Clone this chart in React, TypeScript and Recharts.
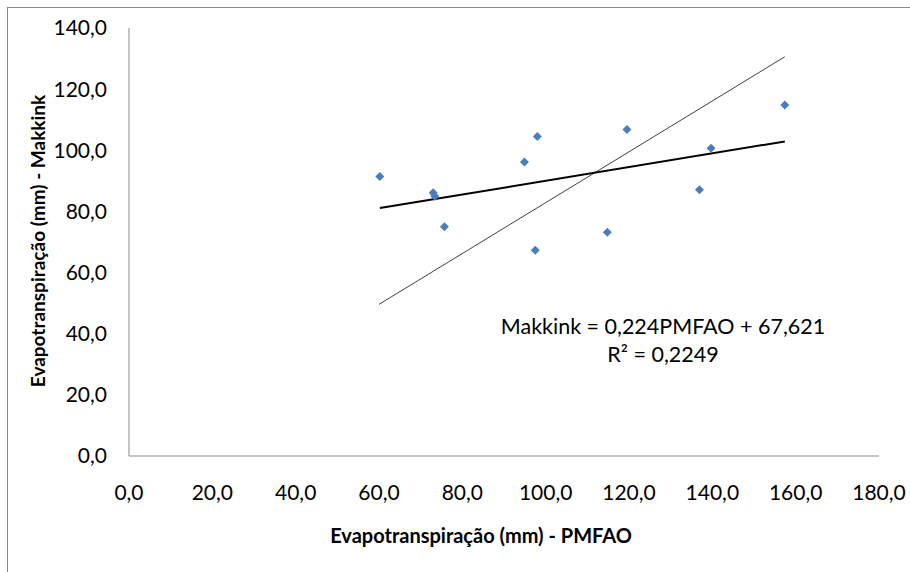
import { ScatterChart, Scatter, XAxis, YAxis, ReferenceLine } from 'recharts';

// PMFAO (x) vs Makkink (y), mm
const pmfao = [60.2, 73.0, 73.4, 75.7, 94.9, 98.0, 97.5, 114.8, 119.5, 136.9, 139.7, 157.4];
const makkink = [91.4, 86.1, 85.0, 75.0, 96.2, 104.5, 67.3, 73.2, 106.8, 87.1, 100.7, 114.8];

const xTicks = [0, 20, 40, 60, 80, 100, 120, 140, 160, 180];
const yTicks = [0, 20, 40, 60, 80, 100, 120, 140];

// linha de tendência (Makkink = 0,224PMFAO + 67,621)
const trendX = [60.2, 157.4];
const trendY = [81.1, 102.9];

// linha fina
const refX = [60.0, 157.4];
const refY = [49.6, 130.6];

const points = pmfao.map((x, i) => ({ x, y: makkink[i] }));

const fmt = (v: number) => v.toFixed(1).replace('.', ',');

const font = 'Lato, "Open Sans", sans-serif';

const Diamond = (props: any) => {
  const { cx, cy } = props;
  const r = 4.5;
  return (
    <polygon
      points={`${cx},${cy - r} ${cx + r},${cy} ${cx},${cy + r} ${cx - r},${cy}`}
      fill="#4a7ebb"
    />
  );
};

export default function App() {
  return (
    <div
      style={{
        position: 'absolute',
        left: 0,
        top: 0,
        width: 910,
        height: 572,
        background: '#fff',
        overflow: 'hidden',
        fontFamily: font,
      }}
    >
      <div
        style={{
          position: 'absolute',
          left: 7,
          top: 7,
          width: 950,
          height: 600,
          borderLeft: '1px solid #898989',
          borderTop: '1px solid #898989',
        }}
      />
      <ScatterChart width={910} height={572} margin={{ top: 28, right: 31, bottom: 76, left: 0 }}>
        <XAxis
          type="number"
          dataKey="x"
          domain={[0, 180]}
          ticks={xTicks}
          tickFormatter={fmt}
          height={40}
          tickLine={false}
          tickSize={0}
          tickMargin={29}
          axisLine={{ stroke: '#888888' }}
          tick={{ fill: '#000', fontSize: 21, fontFamily: font }}
          interval={0}
        />
        <YAxis
          type="number"
          dataKey="y"
          domain={[0, 140]}
          ticks={yTicks}
          tickFormatter={fmt}
          width={129}
          tickLine={false}
          tickSize={0}
          tickMargin={22}
          axisLine={{ stroke: '#888888' }}
          tick={{ fill: '#000', fontSize: 21, fontFamily: font }}
          interval={0}
        />
        <ReferenceLine
          segment={[{ x: refX[0], y: refY[0] }, { x: refX[1], y: refY[1] }]}
          stroke="#404040"
          strokeWidth={1}
          ifOverflow="visible"
        />
        <ReferenceLine
          segment={[{ x: trendX[0], y: trendY[0] }, { x: trendX[1], y: trendY[1] }]}
          stroke="#000"
          strokeWidth={2}
          ifOverflow="visible"
        />
        <Scatter data={points} shape={Diamond} isAnimationActive={false} />
      </ScatterChart>
      <div
        style={{
          position: 'absolute',
          left: 37,
          top: 241,
          transform: 'translate(-50%, -50%) rotate(-90deg)',
          whiteSpace: 'nowrap',
          fontWeight: 700,
          fontSize: 19,
        }}
      >
        Evapotranspiração (mm) - Makkink
      </div>
      <div
        style={{
          position: 'absolute',
          left: 481,
          top: 535,
          transform: 'translate(-50%, -50%)',
          whiteSpace: 'nowrap',
          fontWeight: 700,
          fontSize: 20,
        }}
      >
        Evapotranspiração (mm) - PMFAO
      </div>
      <div
        style={{
          position: 'absolute',
          left: 663,
          top: 340,
          transform: 'translate(-50%, -50%)',
          whiteSpace: 'nowrap',
          textAlign: 'center',
          fontSize: 21.5,
          lineHeight: '28px',
        }}
      >
        <div>Makkink = 0,224PMFAO + 67,621</div>
        <div>R² = 0,2249</div>
      </div>
    </div>
  );
}
